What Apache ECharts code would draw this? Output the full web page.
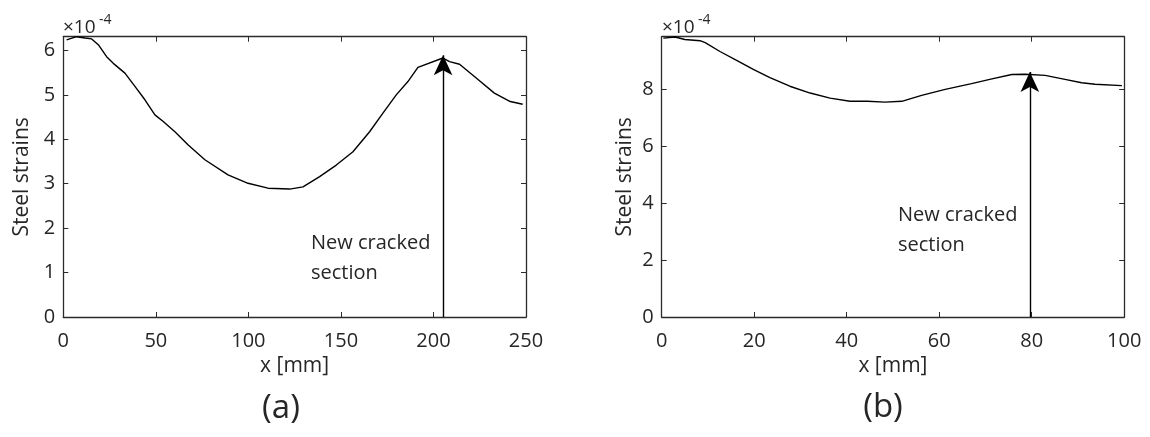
<!DOCTYPE html>
<html>
<head>
<meta charset="utf-8">
<script src="https://cdn.jsdelivr.net/npm/echarts@6/dist/echarts.min.js"></script>
<style>
html,body{margin:0;padding:0;background:#fff;}
#c{width:1150px;height:437px;}
</style>
</head>
<body>
<div id="c"></div>
<script>
// Panel (a): x in mm, steel strain in units of 1e-4
const xA = [1.8, 7.2, 11.7, 15.3, 18.9, 23.4, 27, 33.3, 38.7, 44.1, 49.5, 54, 60.3, 67.5, 76.5, 89, 99.8, 110.6, 122.3, 129.5, 138.5, 147.5, 156.5, 165.5, 172.7, 179.9, 186.2, 191.6, 205.1, 208.7, 214.1, 223.1, 232.9, 241.5, 248.2];
const yA = [6.24, 6.31, 6.28, 6.26, 6.13, 5.86, 5.71, 5.49, 5.19, 4.89, 4.55, 4.40, 4.17, 3.87, 3.54, 3.20, 3.01, 2.90, 2.88, 2.93, 3.16, 3.42, 3.72, 4.17, 4.59, 5.00, 5.30, 5.62, 5.83, 5.75, 5.69, 5.38, 5.04, 4.85, 4.79];
// Panel (b)
const xB = [0.35, 2.9, 5.0, 8.3, 9.4, 12.6, 16.2, 19.8, 23.4, 27.7, 32.1, 36.4, 40.7, 44.5, 48.3, 51.9, 56.2, 61.3, 67, 71.4, 75.7, 78.6, 82.9, 87.2, 90.8, 93.7, 99.5];
const yB = [9.80, 9.84, 9.75, 9.71, 9.64, 9.33, 9.02, 8.70, 8.41, 8.11, 7.87, 7.69, 7.58, 7.58, 7.55, 7.58, 7.79, 8.00, 8.20, 8.37, 8.52, 8.53, 8.49, 8.35, 8.23, 8.18, 8.13];
// Arrows "New cracked section": [x, tip strain]
const arrowA = [205.2, 5.89];
const arrowB = [79.6, 8.61];
const xTicksA = {min: 0, max: 250, interval: 50};
const xTicksB = {min: 0, max: 100, interval: 20};
const yTicksA = {min: 0, max: 6.31, interval: 1};
const yTicksB = {min: 0, max: 9.85, interval: 2};
const xName = 'x [mm]';
const yName = 'Steel strains';
const annot = 'New cracked\nsection';
const panelLabels = ['(a)', '(b)'];
const expBase = '×10';
const expPow = '-4';

const FONT = '"Open Sans", "DejaVu Sans", sans-serif';
const TXT = '#262626';
const AX = '#2b2b2b';

function pairs(xs, ys){ return xs.map((x,i)=>[x, ys[i]]); }

const grids = [
  {left: 63.3, top: 36.7, width: 462.7, height: 280.3, show: false},
  {left: 661.7, top: 36.7, width: 462.5, height: 280.3, show: false}
];

function xAx(gi, t, pos, main){
  return {
    type: 'value', gridIndex: gi, position: pos,
    min: t.min, max: t.max, interval: t.interval,
    name: main ? xName : '', nameLocation: 'middle', nameGap: 37,
    nameTextStyle: {fontFamily: FONT, fontSize: 21, color: TXT},
    axisLine: {show: true, onZero: false, lineStyle: {color: AX, width: 1.3}},
    axisTick: {show: true, inside: true, length: 5, lineStyle: {color: AX, width: 1}},
    axisLabel: {show: main, margin: 14, fontFamily: FONT, fontSize: 20, color: TXT},
    splitLine: {show: false}
  };
}
function yAx(gi, t, pos, main, gap){
  return {
    type: 'value', gridIndex: gi, position: pos,
    min: t.min, max: t.max, interval: t.interval,
    name: main ? yName : '', nameLocation: 'middle', nameGap: gap,
    nameTextStyle: {fontFamily: FONT, fontSize: 21, color: TXT},
    axisLine: {show: true, onZero: false, lineStyle: {color: AX, width: 1.3}},
    axisTick: {show: true, inside: true, length: 5, lineStyle: {color: AX, width: 1}},
    axisLabel: {show: main, margin: 8, fontFamily: FONT, fontSize: 20, color: TXT,
      showMaxLabel: false,
      formatter: v => (Math.abs(v - Math.round(v)) < 1e-9 ? String(Math.round(v)) : '')},
    splitLine: {show: false}
  };
}

function curve(gi, data, arrow){
  return {
    type: 'line', xAxisIndex: gi*2, yAxisIndex: gi*2, data: data,
    showSymbol: false, smooth: false, animation: false,
    lineStyle: {color: '#000', width: 1.4},
    markLine: {
      silent: true, animation: false,
      symbol: ['none', 'arrow'], symbolSize: [14, 20],
      label: {show: false},
      lineStyle: {color: '#000', width: 1.4, type: 'solid'},
      data: [[{coord: [arrow[0], 0]}, {coord: [arrow[0], arrow[1]]}]]
    }
  };
}

const chart = echarts.init(document.getElementById('c'));
chart.setOption({
  backgroundColor: '#fff',
  animation: false,
  grid: grids,
  xAxis: [xAx(0, xTicksA, 'bottom', true), xAx(0, xTicksA, 'top', false),
          xAx(1, xTicksB, 'bottom', true), xAx(1, xTicksB, 'top', false)],
  yAxis: [yAx(0, yTicksA, 'left', true, 31), yAx(0, yTicksA, 'right', false, 0),
          yAx(1, yTicksB, 'left', true, 26), yAx(1, yTicksB, 'right', false, 0)],
  series: [curve(0, pairs(xA, yA), arrowA), curve(1, pairs(xB, yB), arrowB)],
  graphic: [
    {type: 'text', x: 281, y: 408.5, style: {text: panelLabels[0], font: '33px ' + FONT, fill: TXT, align: 'center', verticalAlign: 'middle'}},
    {type: 'text', x: 883, y: 407.5, style: {text: panelLabels[1], font: '33px ' + FONT, fill: TXT, align: 'center', verticalAlign: 'middle'}},
    {type: 'text', x: 63, y: 37, style: {text: expBase, font: '19px ' + FONT, fill: TXT, align: 'left', verticalAlign: 'bottom'}},
    {type: 'text', x: 99, y: 27, style: {text: expPow, font: '14px ' + FONT, fill: TXT, align: 'left', verticalAlign: 'bottom'}},
    {type: 'text', x: 662, y: 37, style: {text: expBase, font: '19px ' + FONT, fill: TXT, align: 'left', verticalAlign: 'bottom'}},
    {type: 'text', x: 698, y: 27, style: {text: expPow, font: '14px ' + FONT, fill: TXT, align: 'left', verticalAlign: 'bottom'}},
    {type: 'text', x: 311, y: 228, style: {text: annot, font: '20px ' + FONT, fill: TXT, lineHeight: 30, verticalAlign: 'top'}},
    {type: 'text', x: 898, y: 200, style: {text: annot, font: '20px ' + FONT, fill: TXT, lineHeight: 30, verticalAlign: 'top'}}
  ]
});
</script>
</body>
</html>
